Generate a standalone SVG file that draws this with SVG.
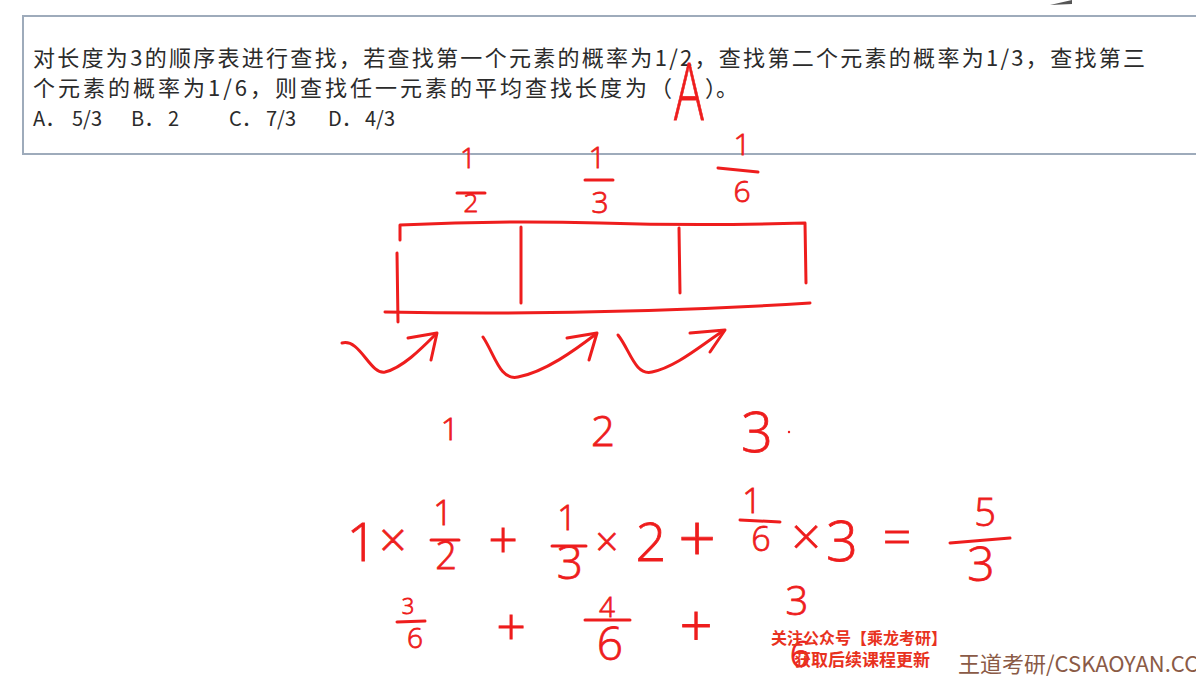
<svg xmlns="http://www.w3.org/2000/svg" width="1196" height="676" viewBox="0 0 1196 676">
<style>
.q{font-family:"Noto Sans CJK SC","Noto Sans",sans-serif;font-size:22px;fill:#2b2b2b}
.qa{font-family:"Noto Sans CJK SC","Noto Sans",sans-serif;font-size:20px;fill:#2b2b2b}
.h{font-family:"Open Sans","DejaVu Sans",sans-serif;font-weight:300;fill:#ee1d1d;stroke:#ee1d1d;stroke-width:0.8;text-anchor:middle}
.s{stroke:#ee1d1d;stroke-width:3;fill:none;stroke-linecap:round;stroke-linejoin:round}
.wm{font-family:"Noto Sans CJK SC",sans-serif;font-weight:bold;fill:#e8321e}
</style>
<rect width="1196" height="676" fill="#ffffff"/>
<polygon points="1050,5 1072,0 1072,4" fill="#555"/>
<g id="question">
<rect x="23" y="16" width="1185" height="138" fill="#ffffff" stroke="#9eabbb" stroke-width="2"/>
<text class="q" x="33" y="66" textLength="1112" lengthAdjust="spacing">对长度为3的顺序表进行查找，若查找第一个元素的概率为1/2，查找第二个元素的概率为1/3，查找第三</text>
<text class="q" x="33" y="96" textLength="639" lengthAdjust="spacing">个元素的概率为1/6，则查找任一元素的平均查找长度为（</text>
<text class="q" x="705" y="96">）。</text>
<text class="qa" x="33" y="126">A．</text><text class="qa" x="72" y="126">5/3</text>
<text class="qa" x="131" y="126">B．</text><text class="qa" x="168" y="126">2</text>
<text class="qa" x="229" y="126">C．</text><text class="qa" x="266" y="126">7/3</text>
<text class="qa" x="328" y="126">D．</text><text class="qa" x="365" y="126">4/3</text>
</g>
<g id="answer">
<text class="h" x="0" y="0" font-size="80" transform="translate(689 120) scale(0.62 0.98)">A</text>
</g>
<g id="probabilities">
<text class="h" x="468" y="168" font-size="28">1</text>
<line class="s" x1="457" y1="193" x2="485" y2="193"/>
<text class="h" x="471" y="212" font-size="26">2</text>
<text class="h" x="597" y="168" font-size="30">1</text>
<line class="s" x1="585" y1="180" x2="613" y2="180"/>
<text class="h" x="600" y="213" font-size="30">3</text>
<text class="h" x="742" y="155" font-size="30">1</text>
<line class="s" x1="718" y1="168" x2="758" y2="172"/>
<text class="h" x="742" y="202" font-size="30">6</text>
</g>
<g id="array">
<path class="s" d="M400 240 L400 225 Q500 220 600 223 Q700 226 805 223 L806 283"/>
<path class="s" d="M397 253 L398 322"/>
<path class="s" d="M385 312 Q600 316 810 303"/>
<path class="s" d="M521 227 L521 303"/>
<path class="s" d="M679 228 L680 293"/>
</g>
<g id="connectors">
<path class="s" d="M342 343 C360 338 370 375 385 372 C402 368 420 350 436 334"/>
<path class="s" d="M408 338 L437 333 L431 360"/>
<path class="s" d="M483 337 C495 355 500 381 518 377 C545 372 575 350 596 334"/>
<path class="s" d="M567 338 L597 333 L589 360"/>
<path class="s" d="M618 335 C630 350 635 376 652 372 C676 367 700 346 723 331"/>
<path class="s" d="M690 333 L725 330 L710 352"/>
</g>
<g id="indices">
<text class="h" x="450" y="440" font-size="32">1</text>
<text class="h" x="603" y="446" font-size="42">2</text>
<text class="h" x="757" y="452" font-size="56">3</text>
<circle cx="789" cy="432" r="1.2" fill="#ee1d1d"/>
</g>
<g id="equation">
<text class="h" x="362" y="561" font-size="54">1</text>
<text class="h" x="393" y="557" font-size="48">×</text>
<text class="h" x="443" y="525" font-size="34">1</text>
<line class="s" x1="431" y1="540" x2="459" y2="540"/>
<text class="h" x="446" y="569" font-size="38">2</text>
<text class="h" x="503" y="558" font-size="52">+</text>
<text class="h" x="567" y="530" font-size="34">1</text>
<line class="s" x1="552" y1="546" x2="586" y2="546"/>
<text class="h" x="570" y="579" font-size="46">3</text>
<text class="h" x="607" y="556" font-size="40">×</text>
<text class="h" x="651" y="561" font-size="54">2</text>
<text class="h" x="697" y="562" font-size="66">+</text>
<text class="h" x="752" y="513" font-size="34">1</text>
<line class="s" x1="740" y1="520" x2="780" y2="522"/>
<text class="h" x="761" y="551" font-size="34">6</text>
<text class="h" x="806" y="555" font-size="52">×</text>
<text class="h" x="842" y="561" font-size="56">3</text>
<text class="h" x="897" y="555" font-size="50">=</text>
<text class="h" x="985" y="526" font-size="38">5</text>
<line class="s" x1="950" y1="543" x2="1010" y2="538"/>
<text class="h" x="981" y="581" font-size="48">3</text>
<text class="h" x="408" y="614" font-size="22">3</text>
<line class="s" x1="397" y1="622" x2="425" y2="621"/>
<text class="h" x="415" y="648" font-size="28">6</text>
<text class="h" x="511" y="645" font-size="52">+</text>
<text class="h" x="607" y="617" font-size="28">4</text>
<line class="s" x1="585" y1="620" x2="630" y2="620"/>
<text class="h" x="610" y="660" font-size="46">6</text>
<text class="h" x="696" y="647" font-size="58">+</text>
<text class="h" x="797" y="615" font-size="40">3</text>
<text class="h" x="800" y="667" font-size="36">6</text>
</g>
<g id="watermark">
<text class="wm" x="771" y="644" font-size="16">关注公众号【乘龙考研】</text>
<text class="wm" x="794" y="666" font-size="17">获取后续课程更新</text>
<text x="958" y="672" font-family="Noto Sans CJK SC,sans-serif" font-size="22" fill="#8a5a46">王道考研/CSKAOYAN.CC</text>
</g>
</svg>
